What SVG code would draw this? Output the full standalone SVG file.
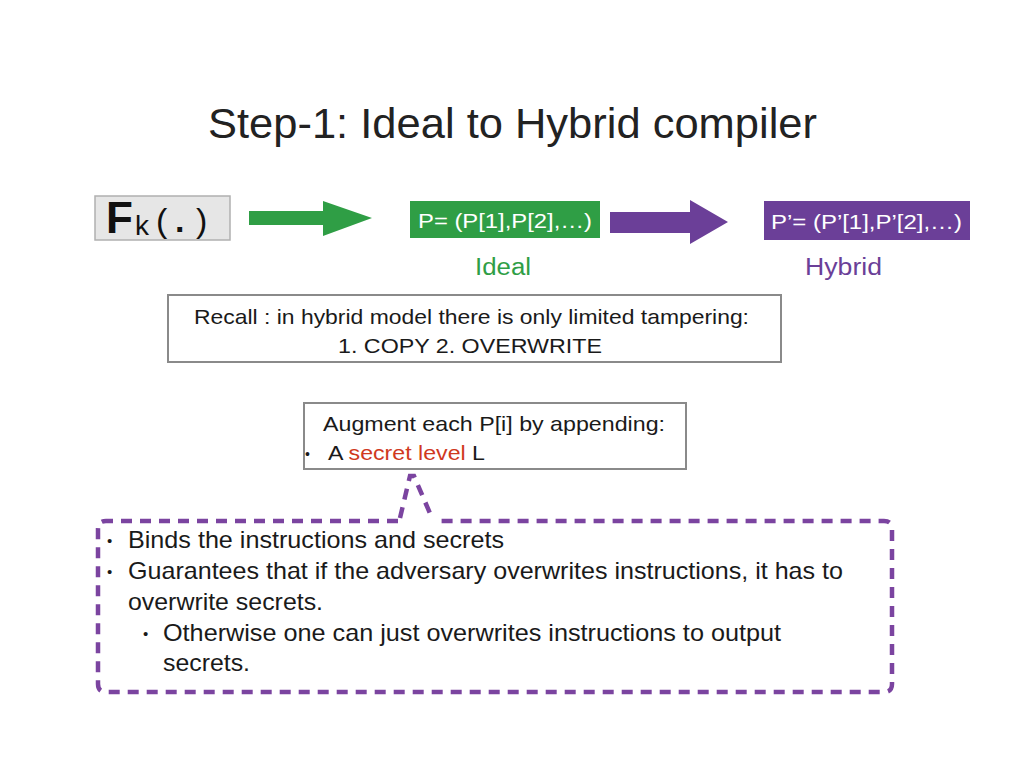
<svg xmlns="http://www.w3.org/2000/svg" width="1024" height="768" viewBox="0 0 1024 768">
<style>
text{font-family:"Liberation Sans",Arial,sans-serif;fill:#1a1a1a}
.box{fill:#fff;stroke:#8a8a8a;stroke-width:2}
.t20{font-size:21px}
.t22{font-size:24px}
.dash{fill:none;stroke:#7b44a0;stroke-width:4.5;stroke-dasharray:11 8}
</style>
<rect width="1024" height="768" fill="#fff"/>
<text x="208" y="138" font-size="43" textLength="609" lengthAdjust="spacingAndGlyphs" style="fill:#222">Step-1: Ideal to Hybrid compiler</text>

<g id="fk">
<rect x="95" y="196" width="135" height="44" fill="#e6e6e6" stroke="#b0b0b0" stroke-width="1.5"/>
<text x="106" y="233" font-size="44" font-weight="bold" style="fill:#111">F</text>
<text x="135" y="235" font-size="28" style="fill:#111">k</text>
<text x="156" y="232" font-size="34" style="fill:#111">(</text>
<text x="175" y="232" font-size="34" font-weight="bold" style="fill:#111">.</text>
<text x="196" y="232" font-size="34" style="fill:#111">)</text>
</g>

<g id="connectors">
<polygon points="249,211 323,211 323,201 372,218 323,236 323,225 249,225" fill="#2f9e45"/>
<polygon points="610,212 690,212 690,200 728,222 690,244 690,233 610,233" fill="#6b3f98"/>
</g>

<g id="ideal">
<rect x="410" y="201" width="190" height="37" fill="#2f9e45"/>
<text x="418" y="228" class="t20" textLength="174" lengthAdjust="spacingAndGlyphs" style="fill:#fff">P= (P[1],P[2],…)</text>
<text x="475" y="275" font-size="23" textLength="56" lengthAdjust="spacingAndGlyphs" style="fill:#2f9e45">Ideal</text>
</g>

<g id="hybrid">
<rect x="764" y="201" width="206" height="39" fill="#6b3f98"/>
<text x="771" y="229" class="t20" textLength="191" lengthAdjust="spacingAndGlyphs" style="fill:#fff">P’= (P’[1],P’[2],…)</text>
<text x="805" y="275" font-size="23" textLength="77" lengthAdjust="spacingAndGlyphs" style="fill:#6b3f98">Hybrid</text>
</g>

<g id="recall">
<rect class="box" x="168" y="295" width="613" height="67"/>
<text x="194" y="324" class="t20" textLength="555" lengthAdjust="spacingAndGlyphs">Recall : in hybrid model there is only limited tampering:</text>
<text x="338" y="353" class="t20" textLength="264" lengthAdjust="spacingAndGlyphs">1. COPY 2. OVERWRITE</text>
</g>

<g id="augment">
<rect class="box" x="304" y="403" width="382" height="66"/>
<text x="323" y="431" class="t20" textLength="342" lengthAdjust="spacingAndGlyphs">Augment each P[i] by appending:</text>
<text x="305" y="459" font-size="14">•</text>
<text x="328" y="460" class="t20" textLength="157" lengthAdjust="spacingAndGlyphs">A <tspan style="fill:#d0391e">secret level</tspan> L</text>
</g>

<g id="callout">
<path class="dash" d="M398,521 L106,521 Q98,521 98,529 L98,684 Q98,692 106,692 L884,692 Q892,692 892,684 L892,529 Q892,521 884,521 L434,521"/>
<path class="dash" d="M400,518 L410,476 L414,476 L432,518"/>
<text x="107" y="546" font-size="15">•</text>
<text x="128" y="548" class="t22" textLength="376" lengthAdjust="spacingAndGlyphs">Binds the instructions and secrets</text>
<text x="107" y="577" font-size="15">•</text>
<text x="128" y="579" class="t22" textLength="715" lengthAdjust="spacingAndGlyphs">Guarantees that if the adversary overwrites instructions, it has to</text>
<text x="128" y="610" class="t22" textLength="195" lengthAdjust="spacingAndGlyphs">overwrite secrets.</text>
<text x="143" y="639" font-size="15">•</text>
<text x="163" y="641" class="t22" textLength="618" lengthAdjust="spacingAndGlyphs">Otherwise one can just overwrites instructions to output</text>
<text x="163" y="671" class="t22" textLength="87" lengthAdjust="spacingAndGlyphs">secrets.</text>
</g>
</svg>
